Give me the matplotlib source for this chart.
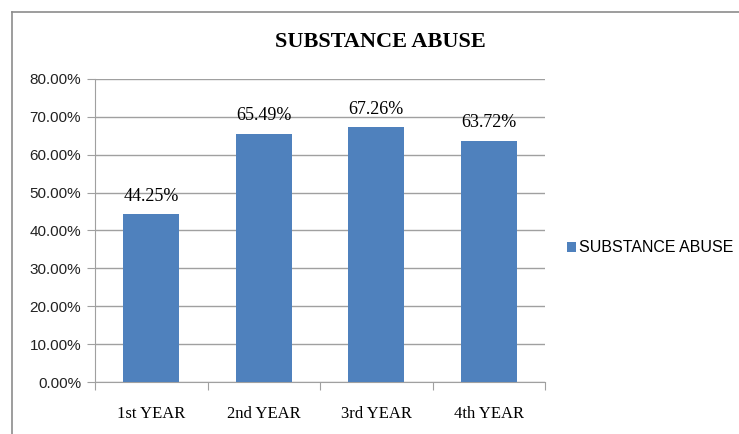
import matplotlib
matplotlib.use("Agg")
import matplotlib.pyplot as plt
from matplotlib.lines import Line2D
from matplotlib.patches import Patch
from matplotlib.ticker import FuncFormatter, MultipleLocator

YEARS = ["1st YEAR", "2nd YEAR", "3rd YEAR", "4th YEAR"]
ABUSE_PCT = [44.25, 65.49, 67.26, 63.72]
SERIES_NAME = "SUBSTANCE ABUSE"

BAR_COLOR = "#4F81BD"
GRID_COLOR = "#A0A0A0"
SERIF = "Liberation Serif"
SANS = "Liberation Sans"


def plot_chart(save_path):
    fig = plt.figure(figsize=(7.39, 4.34), dpi=100)
    ax = fig.add_axes([95 / 739, 1 - 382 / 434, 450 / 739, 303 / 434])

    x = range(len(YEARS))
    ax.bar(x, ABUSE_PCT, width=0.5, color=BAR_COLOR, zorder=3)
    for xi, v in zip(x, ABUSE_PCT):
        ax.text(xi, v + 3.6, f"{v:.2f}%", ha="center", va="baseline",
                fontsize=13, family=SERIF, zorder=4)

    ax.set_xlim(-0.5, len(YEARS) - 0.5)
    ax.set_ylim(0, 80)
    ax.yaxis.set_major_locator(MultipleLocator(10))
    ax.yaxis.set_major_formatter(FuncFormatter(lambda v, _: f"{v:.2f}%"))
    ax.grid(axis="y", color=GRID_COLOR, linewidth=1, zorder=0)

    # category labels centred under bars, tick marks between categories
    ax.set_xticks([i - 0.5 for i in range(len(YEARS) + 1)])
    ax.set_xticklabels([])
    ax.set_xticks(list(x), minor=True)
    ax.set_xticklabels(YEARS, minor=True, fontsize=12, family=SERIF)
    ax.tick_params(axis="x", which="major", length=6, color=GRID_COLOR)
    ax.tick_params(axis="x", which="minor", length=0, pad=17)
    ax.tick_params(axis="y", length=6, color=GRID_COLOR, labelsize=11, pad=4)
    for lbl in ax.get_yticklabels():
        lbl.set_family(SANS)
        lbl.set_color("#222222")

    for side in ("top", "right"):
        ax.spines[side].set_visible(False)
    ax.spines["left"].set_color(GRID_COLOR)
    ax.spines["bottom"].set_color(GRID_COLOR)

    fig.text(380 / 739, 1 - 42 / 434, SERIES_NAME, ha="center", va="center",
             fontsize=16, fontweight="bold", family=SERIF)

    handle = Patch(facecolor=BAR_COLOR, edgecolor="none")
    fig.legend([handle], [SERIES_NAME], loc="center left",
               bbox_to_anchor=(567 / 739, 1 - 248 / 434), frameon=False,
               prop={"family": SANS, "size": 11.5}, handlelength=0.55,
               handleheight=0.55, handletextpad=0.2, borderpad=0,
               borderaxespad=0)

    # outer chart frame: only top and left edges are visible
    fig.add_artist(Line2D([12 / 739, 1], [1 - 12 / 434] * 2,
                          color="#8C8C8C", linewidth=1.2))
    fig.add_artist(Line2D([12 / 739] * 2, [0, 1 - 12 / 434],
                          color="#8C8C8C", linewidth=1.2))

    fig.savefig(save_path, dpi=100)
    plt.close(fig)


if __name__ == "__main__":
    plot_chart("out.png")
